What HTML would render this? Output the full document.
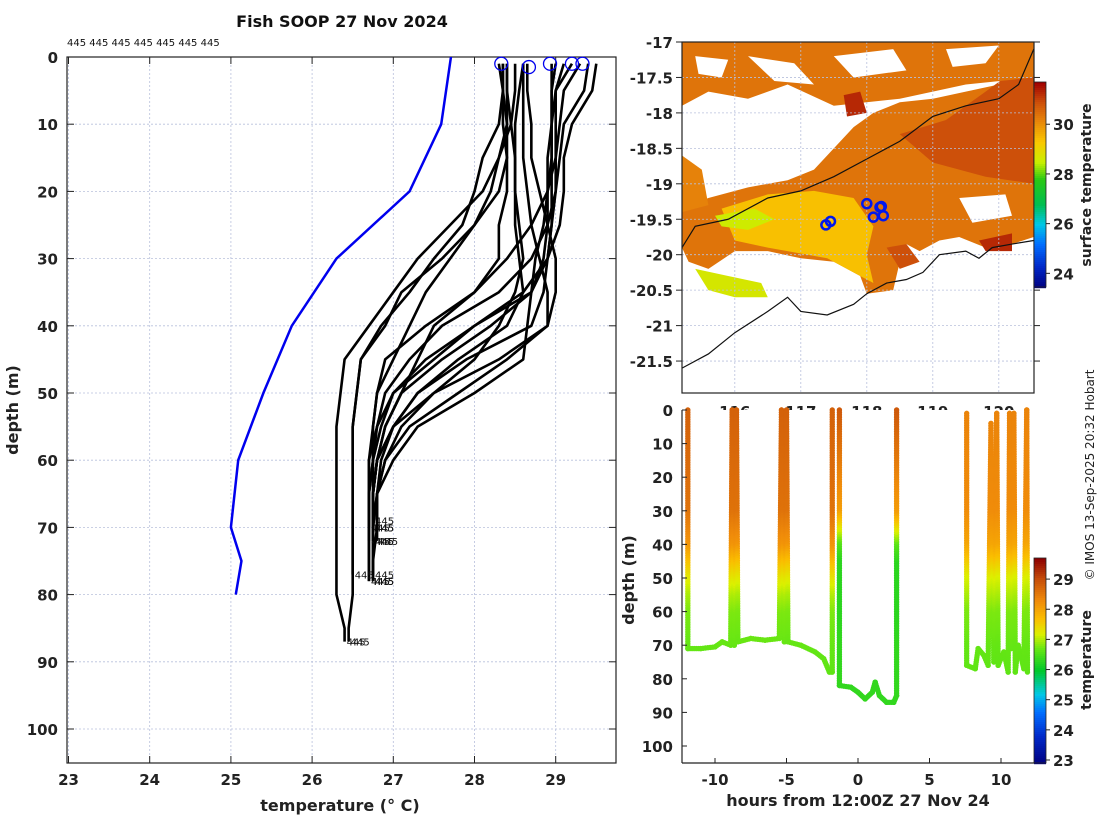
<!DOCTYPE html>
<html><head><meta charset="utf-8"><style>
html,body{margin:0;padding:0;background:#fff;}
svg{display:block;font-family:"DejaVu Sans","Liberation Sans",sans-serif;}
.tk{font-weight:bold;font-size:15px;fill:#222;}
</style></head><body>
<svg id="fig" width="1100" height="820" viewBox="0 0 1100 820">
<g id="left"></g>
<g id="map"></g>
<g id="bot"></g>
</svg>
<script>
// ---------- data: left profile panel ----------
const stdDepths=[1,5,10,15,20,25,30,35,40,45,50,55,60,65,70,75,80,85];
const profTemps=[
[28.3,28.35,28.4,28.4,28.3,28.0,27.7,27.4,27.2,27.0,26.8,26.75,26.7,26.7,26.7,26.7],
[28.4,28.4,28.45,28.5,28.5,28.5,28.55,28.6,28.4,27.8,27.3,27.0,26.8,26.75,26.75,26.75],
[28.6,28.6,28.6,28.6,28.65,28.7,28.8,28.9,28.9,28.3,27.5,27.1,26.9,26.8,26.8],
[28.65,28.65,28.7,28.7,28.8,28.9,29.0,29.0,28.9,28.4,27.8,27.2,26.9,26.8,26.75],
[28.95,28.95,28.95,28.95,28.95,28.95,28.9,28.85,28.7,27.9,27.3,27.0,26.8,26.75,26.75,26.75],
[29.2,29.0,28.95,28.95,28.9,28.9,28.85,28.7,28.2,27.6,27.1,26.9,26.8,26.75],
[29.3,29.1,29.05,29.0,29.0,28.95,28.9,28.7,28.0,27.4,27.0,26.85,26.75,26.7,26.7],
[29.4,29.35,29.1,29.05,29.0,28.9,28.7,28.3,27.6,27.2,26.9,26.8,26.7,26.7,26.7],
[29.5,29.45,29.2,29.1,29.1,29.05,28.9,28.6,28.0,27.5,27.0,26.8,26.75,26.7,26.7,26.7],
[28.35,28.35,28.3,28.1,28.0,27.85,27.5,27.2,26.85,26.6,26.55,26.5,26.5,26.5,26.5,26.5,26.5,26.45],
[28.4,28.4,28.4,28.3,28.1,27.7,27.3,27.0,26.7,26.4,26.35,26.3,26.3,26.3,26.3,26.3,26.3,26.4],
[28.5,28.5,28.45,28.3,28.2,28.0,27.6,27.1,26.9,26.6,26.55,26.5,26.5,26.5,26.5,26.5],
[29.0,28.95,28.95,28.9,28.9,28.85,28.75,28.7,28.65,28.6,28.0,27.3,27.0,26.8,26.75],
[28.35,28.35,28.35,28.4,28.4,28.3,28.3,28.0,27.4,26.9,26.8,26.75,26.75,26.75,26.75],
[29.1,29.0,29.0,29.0,28.9,28.7,28.4,28.0,27.5,27.3,27.1,26.9,26.8,26.75,26.75],
[28.6,28.55,28.5,28.5,28.5,28.55,28.6,28.5,28.3,28.0,27.5,27.0,26.85,26.8,26.8,26.75]
];
const profMaxDepth=[78,78,72,70,78,69,72,70,78,87,87,77,72,72,70,77];
const climDepths=[0,10,20,30,40,50,60,70,75,80];
const climTemps=[27.71,27.59,27.2,26.3,25.75,25.4,25.09,25.0,25.13,25.06];
const surfTemps=[28.33,28.67,28.93,29.2,29.33];
const surfDepths=[1,1.5,1,1,1];
const tempTicks=[23,24,25,26,27,28,29];
const depthTicks=[0,10,20,30,40,50,60,70,80,90,100];
// ---------- data: map ----------
const lonTicks=[116,117,118,119,120];
const latTicks=[-17,-17.5,-18,-18.5,-19,-19.5,-20,-20.5,-21,-21.5];
const sstTicks=[24,26,28,30];
const sstPatchLon=[
[115.2,115.6,116.2,116.8,117.2,117.5,117.8,118.1,118.5,119.0,119.5,120.0,120.53,120.53,120.2,119.8,119.4,119.1,118.8,118.6,118.5,118.4,118.0,117.9,117.5,117.0,116.5,116.0,115.6,115.3,115.2],
[118.5,119.2,119.8,120.53,120.53,119.8,119.0],
[115.2,120.53,120.53,119.5,118.5,117.5,116.8,116.2,115.6,115.2],
[115.8,116.5,117.2,117.8,118.1,118.0,118.1,117.9,117.4,116.5,116.0],
[115.7,116.3,116.6,116.2,115.8],
[115.4,115.9,116.4,116.5,116.0,115.6],
[115.2,115.5,115.6,115.2],
[117.65,117.9,118.0,117.7],
[119.7,120.2,120.2,119.8],
[118.3,118.6,118.8,118.5]
];
const sstPatchLat=[
[-19.35,-19.2,-19.05,-18.95,-18.8,-18.5,-18.2,-18.0,-17.85,-17.8,-17.7,-17.6,-17.4,-19.75,-19.85,-19.9,-19.75,-19.8,-19.95,-19.85,-20.1,-20.5,-20.55,-20.3,-20.1,-20.05,-19.95,-19.95,-20.2,-20.1,-19.9],
[-18.3,-18.1,-17.7,-17.2,-19.0,-18.9,-18.7],
[-17.0,-17.0,-17.5,-17.6,-17.8,-17.9,-17.6,-17.8,-17.7,-17.9],
[-19.35,-19.15,-19.1,-19.2,-19.6,-20.0,-20.4,-20.3,-20.05,-19.9,-19.8],
[-19.45,-19.35,-19.5,-19.65,-19.6],
[-20.2,-20.3,-20.4,-20.6,-20.6,-20.5],
[-18.6,-18.8,-19.3,-19.4],
[-17.75,-17.7,-18.0,-18.05],
[-19.8,-19.7,-19.95,-19.95],
[-19.9,-19.85,-20.1,-20.2]
];
const sstPatchVal=[30.4,30.9,30.4,29.4,28.6,28.7,30.2,31.3,31.3,30.9];
const holeLon=[
[116.2,116.9,117.2,116.6],
[117.5,118.4,118.6,117.8],
[119.2,120.0,119.8,119.3],
[119.4,120.1,120.2,119.6],
[115.4,115.9,115.8,115.45]
];
const holeLat=[
[-17.2,-17.3,-17.6,-17.55],
[-17.2,-17.1,-17.4,-17.5],
[-17.1,-17.05,-17.3,-17.35],
[-19.2,-19.15,-19.45,-19.55],
[-17.2,-17.25,-17.5,-17.45]
];
const coastLon=[115.2,115.6,116.0,116.5,116.8,117.0,117.4,117.8,118.0,118.3,118.6,118.85,119.1,119.5,119.7,119.9,120.2,120.53];
const coastLat=[-21.6,-21.4,-21.1,-20.8,-20.6,-20.8,-20.85,-20.7,-20.55,-20.4,-20.35,-20.25,-20.0,-19.95,-20.05,-19.9,-19.85,-19.8];
const isoLon=[115.2,115.4,115.9,116.5,117.0,117.5,118.0,118.5,119.0,119.5,120.0,120.3,120.53];
const isoLat=[-19.9,-19.6,-19.5,-19.2,-19.1,-18.9,-18.65,-18.4,-18.05,-17.9,-17.8,-17.6,-17.1];
const stnLon=[117.38,117.45,118.0,118.2,118.25,118.1,118.22];
const stnLat=[-19.58,-19.53,-19.28,-19.33,-19.45,-19.47,-19.32];
// ---------- data: section panel ----------
const hourTicks=[-10,-5,0,5,10];
const secTempTicks=[23,24,25,26,27,28,29];
const trackHours=[
[-11.9,-11.9,-11,-10,-9.5,-8.9,-8.8,-8.65,-8.5,-8.4,-7.5,-6.5,-5.5,-5.35,-5.15,-5.0,-4.9,-4,-3,-2.4,-2,-1.8,-1.8],
[-1.3,-1.3,-0.5,0,0.5,1,1.2,1.5,2,2.5,2.7,2.7],
[7.6,7.6,8.2,8.4,8.8,9.1,9.3,9.5,9.7,9.8,10.2,10.5,10.6,10.7,10.9,11.0,11.2,11.6,11.8,11.85]
];
const trackDepths=[
[0,71,71,70.5,69,70,0,70,0,69,68,68.5,68,0,69,0,69,70,72,74,78,78,0],
[0,82,82.5,84,86,84,81,85,87,87,85,0],
[1,76,77,71,73,76,4,75,1,76,72,78,1,71,1,78,70,77,0,78]
];
const tempProfDepths=[0,30,40,45,50,55,60,70,90];
const trackTempWarm=[28.8,28.6,28.2,27.7,27.3,27.0,26.8,26.7,26.6];
const trackTempCool=[28.9,28.1,26.6,26.3,26.3,26.3,26.3,26.35,26.35];
const trackTempNE=[28.4,28.3,28.0,27.6,27.2,27.0,26.8,26.7,26.6];
const trackProfile=[trackTempWarm,trackTempCool,trackTempNE];
</script>
<script>
const NS="http://www.w3.org/2000/svg";
function mk(parent,tag,attrs,text){const e=document.createElementNS(NS,tag);for(const k in attrs)e.setAttribute(k,attrs[k]);if(text!==undefined)e.textContent=text;parent.appendChild(e);return e;}
function interp(xs,ys,x){if(x<=xs[0])return ys[0];for(let i=1;i<xs.length;i++){if(x<=xs[i]){const f=(x-xs[i-1])/(xs[i]-xs[i-1]);return ys[i-1]+f*(ys[i]-ys[i-1]);}}return ys[ys.length-1];}
function hex(c){return '#'+c.map(v=>Math.round(v).toString(16).padStart(2,'0')).join('');}
function cmap(stops,v){if(v<=stops[0][0])return hex(stops[0][1]);for(let i=1;i<stops.length;i++){if(v<=stops[i][0]){const f=(v-stops[i-1][0])/(stops[i][0]-stops[i-1][0]);return hex(stops[i-1][1].map((a,j)=>a+f*(stops[i][1][j]-a)));}}return hex(stops[stops.length-1][1]);}
const mapStops=[[23.45,[0,0,128]],[24.3,[0,40,200]],[25.2,[0,110,255]],[26.0,[0,200,230]],[26.8,[0,190,80]],[27.8,[40,200,20]],[28.5,[200,240,0]],[29.3,[250,200,0]],[30.2,[230,130,10]],[30.9,[205,80,10]],[31.7,[160,0,0]]];
const secStops=[[22.9,[0,0,128]],[23.8,[0,40,200]],[24.6,[0,110,255]],[25.2,[0,200,230]],[26.0,[0,200,40]],[26.7,[100,230,20]],[27.2,[220,240,0]],[27.7,[250,190,0]],[28.3,[240,140,10]],[29.0,[200,80,10]],[29.7,[140,0,0]]];

// ================= LEFT PANEL =================
const L=document.getElementById('left');
const lx=t=>68.5+(t-23)*81.2, ly=d=>57+d*6.72;
const LX0=67,LX1=616,LY0=57,LY1=763;
mk(L,'text',{x:342,y:27,'text-anchor':'middle','font-size':16,'font-weight':'bold',fill:'#111',},'Fish SOOP 27 Nov 2024');
mk(L,'text',{x:67,y:46,'font-size':10,fill:'#111',},'445 445 445 445 445 445 445');
tempTicks.forEach(t=>{
  const g=mk(L,'line',{x1:lx(t),x2:lx(t),y1:LY0,y2:LY1,stroke:'#b8c0dc','stroke-width':0.8,'stroke-dasharray':'2,2'});
  
  mk(L,'line',{x1:lx(t),x2:lx(t),y1:LY1,y2:LY1-7,stroke:'#222'});
  mk(L,'line',{x1:lx(t),x2:lx(t),y1:LY0,y2:LY0+7,stroke:'#222'});
  const tx=mk(L,'text',{x:lx(t),y:785,'text-anchor':'middle',class:'tk'},String(t));
  
});
depthTicks.forEach(d=>{
  const g=mk(L,'line',{x1:LX0,x2:LX1,y1:ly(d),y2:ly(d),stroke:'#b8c0dc','stroke-width':0.8,'stroke-dasharray':'2,2'});
  
  mk(L,'line',{x1:LX0,x2:LX0+7,y1:ly(d),y2:ly(d),stroke:'#222'});
  mk(L,'line',{x1:LX1,x2:LX1-7,y1:ly(d),y2:ly(d),stroke:'#222'});
  const tx=mk(L,'text',{x:58,y:ly(d)+6,'text-anchor':'end',class:'tk'},String(d));
  
});
mk(L,'rect',{x:LX0,y:LY0,width:LX1-LX0,height:LY1-LY0,fill:'none',stroke:'#222','stroke-width':1.2,});
mk(L,'text',{x:340,y:811,'text-anchor':'middle','font-size':16,'font-weight':'bold',fill:'#222',},'temperature (\u00B0 C)');
mk(L,'text',{transform:'translate(18,410) rotate(-90)','text-anchor':'middle','font-size':16,'font-weight':'bold',fill:'#222',},'depth (m)');
const cl=mk(L,'polyline',{points:climDepths.map((d,i)=>lx(climTemps[i])+','+ly(d)).join(' '),fill:'none',stroke:'#0000ee','stroke-width':2.5});

profTemps.forEach((arr,p)=>{
  const pts=[];
  arr.forEach((t,i)=>{if(stdDepths[i]<=profMaxDepth[p])pts.push(lx(t)+','+ly(stdDepths[i]));});
  const last=arr[arr.length-1];
  pts.push(lx(last)+','+ly(profMaxDepth[p]));
  const pl=mk(L,'polyline',{points:pts.join(' '),fill:'none',stroke:'#000','stroke-width':2.6,'stroke-linejoin':'round'});
  
  const lb=mk(L,'text',{x:lx(last)+2,y:ly(profMaxDepth[p])+4,'font-size':10,fill:'#111'},'445');
  
});
surfTemps.forEach((t,i)=>{
  const c=mk(L,'circle',{cx:lx(t),cy:ly(surfDepths[i]),r:6.5,fill:'none',stroke:'#0000ee','stroke-width':1.3});
  
});

// ================= MAP =================
const M=document.getElementById('map');
const mx=lon=>682+(lon-115.2)*66, my=lat=>42+(-17-lat)*70.9;
const MX0=682,MX1=1034,MY0=42,MY1=393;
mk(M,'defs',{}).innerHTML='<clipPath id="mclip"><rect x="682" y="42" width="352" height="351"/></clipPath>';
const MG=mk(M,'g',{'clip-path':'url(#mclip)'});
sstPatchLon.forEach((lons,i)=>{
  const pg=mk(MG,'polygon',{points:lons.map((lo,j)=>mx(lo)+','+my(sstPatchLat[i][j])).join(' '),fill:cmap(mapStops,sstPatchVal[i]),stroke:'none'});
  
});
holeLon.forEach((lons,i)=>{
  const pg=mk(MG,'polygon',{points:lons.map((lo,j)=>mx(lo)+','+my(holeLat[i][j])).join(' '),fill:'#fff',stroke:'none'});
  
});
lonTicks.forEach(lo=>{
  mk(MG,'line',{x1:mx(lo),x2:mx(lo),y1:MY0,y2:MY1,stroke:'#b8c0dc','stroke-width':0.8,'stroke-dasharray':'2,2'});
});
latTicks.forEach(la=>{
  mk(MG,'line',{x1:MX0,x2:MX1,y1:my(la),y2:my(la),stroke:'#b8c0dc','stroke-width':0.8,'stroke-dasharray':'2,2'});
  mk(M,'line',{x1:MX0,x2:MX0-6,y1:my(la),y2:my(la),stroke:'#222'});
  mk(M,'line',{x1:MX1,x2:MX1+6,y1:my(la),y2:my(la),stroke:'#222'});
  const tx=mk(M,'text',{x:673,y:my(la)+6,'text-anchor':'end',class:'tk'},String(la));
  
});
const iso=mk(MG,'polyline',{points:isoLon.map((lo,i)=>mx(lo)+','+my(isoLat[i])).join(' '),fill:'none',stroke:'#111','stroke-width':1.2});

const co=mk(MG,'polyline',{points:coastLon.map((lo,i)=>mx(lo)+','+my(coastLat[i])).join(' '),fill:'none',stroke:'#111','stroke-width':1.2});

stnLon.forEach((lo,i)=>{
  const c=mk(MG,'circle',{cx:mx(lo),cy:my(stnLat[i]),r:4.5,fill:'none',stroke:'#0018ee','stroke-width':2.5});
  
});
mk(M,'rect',{x:MX0,y:MY0,width:MX1-MX0,height:MY1-MY0,fill:'none',stroke:'#222','stroke-width':1.2,});
lonTicks.forEach(lo=>{
  const tx=mk(M,'text',{x:mx(lo),y:417,'text-anchor':'middle',class:'tk'},String(lo));
  
});
const cbY0=82,cbY1=287,sMin=23.45,sMax=31.7;
const cby=v=>cbY1-(v-sMin)/(sMax-sMin)*(cbY1-cbY0);
for(let y=cbY0;y<cbY1;y+=2){const v=sMax-(y-cbY0)/(cbY1-cbY0)*(sMax-sMin);mk(M,'rect',{x:1034,y:y,width:12,height:2.2,fill:cmap(mapStops,v)});}
mk(M,'rect',{x:1034,y:cbY0,width:12,height:cbY1-cbY0,fill:'none',stroke:'#222','stroke-width':0.8,});
sstTicks.forEach(v=>{mk(M,'line',{x1:1046,x2:1050,y1:cby(v),y2:cby(v),stroke:'#222'});
  const tx=mk(M,'text',{x:1053,y:cby(v)+6,class:'tk'},String(v));});
mk(M,'text',{transform:'translate(1091,185) rotate(-90)','text-anchor':'middle','font-size':14,'font-weight':'bold',fill:'#222',},'surface temperature');

// ================= SECTION =================
const B=document.getElementById('bot');
const bx=h=>858+h*14.3, by=d=>410+d*3.36;
const BX0=682,BX1=1034,BY0=410,BY1=763;
mk(B,'rect',{x:BX0+1,y:BY0,width:BX1-BX0,height:BY1-BY0,fill:'#fff'});
trackHours.forEach((hs,s)=>{
  const ds=trackDepths[s],prof=trackProfile[s];
  for(let i=1;i<hs.length;i++){
    const x0=bx(hs[i-1]),y0=by(ds[i-1]),x1=bx(hs[i]),y1=by(ds[i]);
    const n=Math.max(1,Math.ceil(Math.hypot(x1-x0,y1-y0)/2.4));
    for(let k=0;k<=n;k++){const f=k/n;const d=ds[i-1]+f*(ds[i]-ds[i-1]);
      const c=mk(B,'circle',{cx:x0+f*(x1-x0),cy:y0+f*(y1-y0),r:2.7,fill:cmap(secStops,interp(tempProfDepths,prof,d))});
      }
  }
});
mk(B,'line',{x1:BX0,x2:BX0,y1:BY0,y2:BY1,stroke:'#222','stroke-width':1.2});
mk(B,'line',{x1:BX0,x2:BX1,y1:BY1,y2:BY1,stroke:'#222','stroke-width':1.2,});
depthTicks.forEach(d=>{mk(B,'line',{x1:BX0,x2:BX0+5,y1:by(d),y2:by(d),stroke:'#222'});
  const tx=mk(B,'text',{x:673,y:by(d)+6,'text-anchor':'end',class:'tk'},String(d));});
hourTicks.forEach(h=>{mk(B,'line',{x1:bx(h),x2:bx(h),y1:BY1,y2:BY1-5,stroke:'#222'});
  const tx=mk(B,'text',{x:bx(h),y:785,'text-anchor':'middle',class:'tk'},String(h));});
mk(B,'text',{x:858,y:806,'text-anchor':'middle','font-size':16,'font-weight':'bold',fill:'#222',},'hours from 12:00Z 27 Nov 24');
mk(B,'text',{transform:'translate(634,580) rotate(-90)','text-anchor':'middle','font-size':16,'font-weight':'bold',fill:'#222',},'depth (m)');
const c2Y0=558,c2Y1=763,tMin=22.9,tMax=29.7;
const c2y=v=>c2Y1-(v-tMin)/(tMax-tMin)*(c2Y1-c2Y0);
for(let y=c2Y0;y<c2Y1;y+=2){const v=tMax-(y-c2Y0)/(c2Y1-c2Y0)*(tMax-tMin);mk(B,'rect',{x:1034,y:y,width:12,height:2.2,fill:cmap(secStops,v)});}
mk(B,'rect',{x:1034,y:c2Y0,width:12,height:c2Y1-c2Y0,fill:'none',stroke:'#222','stroke-width':0.8,});
secTempTicks.forEach(v=>{mk(B,'line',{x1:1046,x2:1050,y1:c2y(v),y2:c2y(v),stroke:'#222'});
  const tx=mk(B,'text',{x:1053,y:c2y(v)+6,class:'tk'},String(v));});
mk(B,'text',{transform:'translate(1091,660) rotate(-90)','text-anchor':'middle','font-size':14,'font-weight':'bold',fill:'#222',},'temperature');
mk(B,'text',{transform:'translate(1094,475) rotate(-90)','text-anchor':'middle','font-size':12,fill:'#222',},'\u00A9 IMOS 13-Sep-2025 20:32 Hobart');
</script>
</body></html>
